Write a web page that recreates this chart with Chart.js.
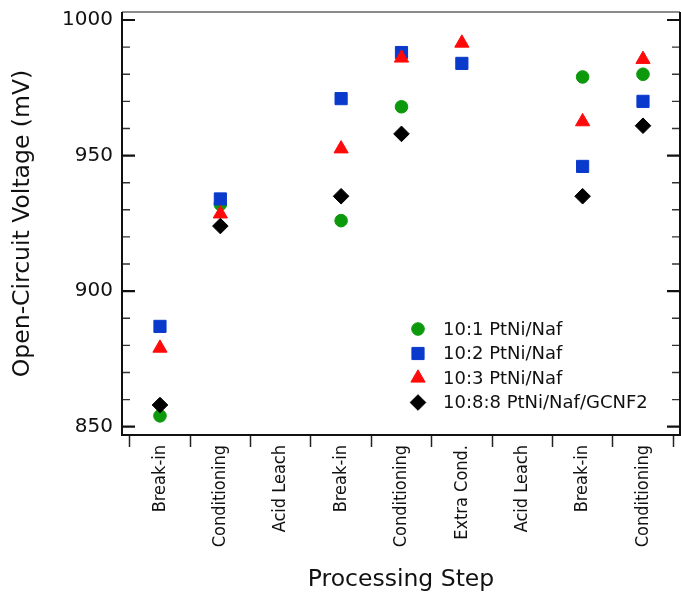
<!DOCTYPE html>
<html>
<head>
<meta charset="utf-8">
<script src="https://cdn.jsdelivr.net/npm/chart.js@4.4.3/dist/chart.umd.min.js"></script>
<style>
  html, body { margin: 0; padding: 0; background: #fff; }
  #ocv-chart { display: block; }
</style>
</head>
<body>
<canvas id="ocv-chart" width="681" height="594"></canvas>
<script>
// processing steps on the x axis
const steps = ["Break-in", "Conditioning", "Acid Leach", "Break-in", "Conditioning",
  "Extra Cond.", "Acid Leach", "Break-in", "Conditioning"];

// open-circuit voltage (mV) per step, null = no measurement
const ptni101 = [854, 932, null, 926, 968, null, null, 979, 980];
const ptni102 = [887, 934, null, 971, 988, 984, null, 946, 970];
const ptni103 = [879, 928.5, null, 952.5, 986, 991.5, null, 962.5, 985.5];
const ptniGcnf = [858, 924, null, 935, 958, null, null, 935, 961];

const seriesNames = ["10:1 PtNi/Naf", "10:2 PtNi/Naf", "10:3 PtNi/Naf", "10:8:8 PtNi/Naf/GCNF2"];

// y axis labels and minor tick step
const yLabels = [850, 900, 950, 1000];
const yMinorStep = 10;

const FONT = "'DejaVu Sans', sans-serif";
const FONT_NARROW = "'DejaVu Sans Condensed', 'DejaVu Sans', sans-serif";

function toPoints(values) {
  return values
    .map((v, i) => ({ x: i, y: v }))
    .filter(p => p.y !== null);
}

/**
 * Inward tick marks on both y sides plus the box round the plot.
 */
const framePlugin = {
  id: "frame",
  afterDraw(chart) {
    const { ctx, chartArea: a, scales } = chart;
    const y = scales.y;
    ctx.save();
    for (let v = yLabels[0]; v <= yLabels[yLabels.length - 1]; v += yMinorStep) {
      const py = y.getPixelForValue(v);
      const major = yLabels.includes(v);
      const len = major ? 13 : 8;
      ctx.strokeStyle = major ? "#111" : "#333";
      ctx.lineWidth = major ? 2.2 : 1.4;
      ctx.beginPath();
      ctx.moveTo(a.left, py);
      ctx.lineTo(a.left + len, py);
      ctx.moveTo(a.right, py);
      ctx.lineTo(a.right - len, py);
      ctx.stroke();
    }
    // top edge is lighter in the original
    ctx.strokeStyle = "#8a8a8a";
    ctx.lineWidth = 2;
    ctx.beginPath();
    ctx.moveTo(a.left, a.top);
    ctx.lineTo(a.right, a.top);
    ctx.stroke();
    ctx.strokeStyle = "#111";
    ctx.beginPath();
    ctx.moveTo(a.left, a.top);
    ctx.lineTo(a.left, a.bottom);
    ctx.lineTo(a.right, a.bottom);
    ctx.lineTo(a.right, a.top);
    ctx.stroke();
    ctx.restore();
  }
};

/**
 * Legend drawn inside the plot area, lower right.
 */
const insideLegend = {
  id: "insideLegend",
  afterDraw(chart) {
    const { ctx, chartArea: a } = chart;
    const markX = a.left + 296;
    const textX = a.left + 321;
    const top = a.top + 317;
    const rowH = 24.5;
    ctx.save();
    ctx.font = "18px " + FONT;
    ctx.textBaseline = "middle";
    ctx.textAlign = "left";
    chart.data.datasets.forEach((ds, i) => {
      const cy = top + i * rowH;
      ctx.fillStyle = ds.backgroundColor;
      ctx.strokeStyle = ds.borderColor;
      ctx.lineWidth = 1;
      if (Chart.helpers && Chart.helpers.drawPoint) {
        Chart.helpers.drawPoint(ctx, {
          pointStyle: ds.pointStyle, radius: ds.pointRadius, rotation: 0, borderWidth: 1
        }, markX, cy);
      }
      ctx.fillStyle = "#111";
      ctx.fillText(ds.label, textX, cy + 1);
    });
    ctx.restore();
  }
};

const sets = [
  { data: ptni101, color: "#0c9a0c", style: "circle", r: 6.3, order: 4 },
  { data: ptni102, color: "#0a3acc", style: "rect", r: 8.6, order: 3 },
  { data: ptni103, color: "#ff0a0a", style: "triangle", r: 8.2, order: 2 },
  { data: ptniGcnf, color: "#000000", style: "rectRot", r: 7.8, order: 1 }
];

new Chart(document.getElementById("ocv-chart").getContext("2d"), {
  type: "scatter",
  data: {
    datasets: sets.map((s, i) => ({
      label: seriesNames[i],
      data: toPoints(s.data),
      pointStyle: s.style,
      pointRadius: s.r,
      pointHoverRadius: s.r,
      backgroundColor: s.color,
      borderColor: s.color,
      borderWidth: 1,
      order: s.order,
      showLine: false
    }))
  },
  options: {
    responsive: false,
    devicePixelRatio: 1,
    animation: false,
    events: [],
    layout: { autoPadding: false, padding: { top: 12, right: 1, left: 0, bottom: 0 } },
    plugins: { legend: { display: false }, tooltip: { enabled: false } },
    scales: {
      x: {
        type: "linear",
        position: "bottom",
        min: -0.629,
        max: 8.613,
        afterBuildTicks(scale) {
          const t = [];
          for (let v = -0.5; v <= steps.length - 0.5; v += 0.5) t.push({ value: v });
          scale.ticks = t;
        },
        afterFit(scale) {
          scale.height = 159;
          scale.paddingLeft = 0;
          scale.paddingRight = 0;
        },
        border: { display: false },
        grid: {
          drawOnChartArea: false,
          drawTicks: true,
          tickLength: 12,
          tickWidth: 1.5,
          tickColor: ctx => (Number.isInteger(ctx.tick.value) ? "rgba(0,0,0,0)" : "#222")
        },
        ticks: {
          autoSkip: false,
          minRotation: 90,
          maxRotation: 90,
          padding: -2,
          color: "#111",
          font: { family: FONT_NARROW, size: 18, lineHeight: 1.2 },
          callback: v => (Number.isInteger(v) ? steps[v] : "")
        },
        title: {
          display: true,
          text: "Processing Step",
          color: "#111",
          font: { family: FONT, size: 23.5, lineHeight: 1.2 },
          padding: { top: 0, bottom: 0 }
        }
      },
      y: {
        type: "linear",
        min: 846.94,
        max: 1002.95,
        afterBuildTicks(scale) {
          scale.ticks = yLabels.map(v => ({ value: v }));
        },
        afterFit(scale) {
          scale.width = 122;
          scale.paddingTop = 0;
          scale.paddingBottom = 0;
        },
        border: { display: false },
        grid: { display: false, drawTicks: false },
        ticks: {
          padding: 9,
          color: "#111",
          font: { family: FONT, size: 20, lineHeight: 1.2 },
          callback: v => String(v)
        },
        title: {
          display: true,
          text: "Open-Circuit Voltage (mV)",
          color: "#111",
          font: { family: FONT, size: 23.5, lineHeight: 1.2 },
          padding: { top: 9, bottom: 0 }
        }
      }
    }
  },
  plugins: [framePlugin, insideLegend]
});
</script>
</body>
</html>
